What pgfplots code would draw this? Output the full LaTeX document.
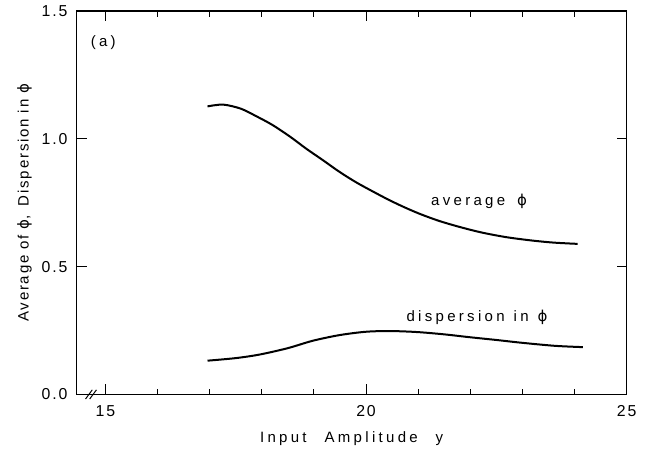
\documentclass[border=0pt]{standalone}
\usepackage{fontspec}
\usepackage{pgfplots}
\pgfplotsset{compat=1.18}
\setmainfont{Liberation Sans}
\newfontfamily\spaced[LetterSpace=22]{Liberation Sans}
\newfontfamily\lessspaced[LetterSpace=12]{Liberation Sans}
\newfontfamily\phifont{DejaVu Sans}
\newcommand{\phisym}{{\phifont ϕ}}

\begin{document}
\begin{tikzpicture}
\begin{axis}[
    scale only axis,
    width=330pt,
    height=230pt,
    xmin=14.45, xmax=25,
    ymin=0, ymax=1.5,
    xtick={15,20,25},
    minor xtick={16,17,18,19,21,22,23,24},
    ytick={0,0.5,1.0,1.5},
    yticklabels={0.0,0.5,1.0,1.5},
    tick align=inside,
    major tick length=6pt,
    minor tick length=3.5pt,
    tick style={black, line width=0.5pt},
    axis line style={line width=0.7pt},
    /pgf/number format/assume math mode=true,
    tick label style={font=\lessspaced\fontsize{9.5}{10}\selectfont},
    xticklabel style={yshift=-3pt},
    yticklabel style={xshift=-2pt},
    xlabel={\spaced\fontsize{9}{10}\selectfont Input\hspace{1.2em}Amplitude\hspace{1.2em}y},
    ylabel={\lessspaced\fontsize{9}{10}\selectfont Average of \phisym,\hspace{0.6em}Dispersion in \phisym},
    xlabel style={yshift=-2pt},
    ylabel style={yshift=-1pt},
    clip=false,
]

% average phi
\addplot[black, line width=1.2pt, smooth] coordinates {
    (16.96,1.127) (17.26,1.134) (17.6,1.118) (17.9,1.088) (18.2,1.055)
    (18.54,1.009) (18.85,0.962) (19.17,0.917) (19.49,0.871) (19.81,0.830)
    (20.15,0.792) (20.45,0.760) (20.75,0.731) (21.05,0.705) (21.40,0.679)
    (21.8,0.655) (22.23,0.633) (22.7,0.615) (23.19,0.602) (23.6,0.594)
    (24.06,0.589)
};

% dispersion in phi
\addplot[black, line width=1.2pt, smooth] coordinates {
    (16.96,0.132) (17.5,0.142) (17.96,0.156) (18.5,0.181) (18.98,0.210)
    (19.49,0.232) (19.99,0.245) (20.45,0.248) (20.98,0.244) (21.5,0.235)
    (21.98,0.224) (22.5,0.213) (22.99,0.202) (23.63,0.190) (24.16,0.185)
};

% axis break marks
\draw[black, line width=0.6pt] (axis cs:14.62,-0.018) -- (axis cs:14.75,0.018);
\draw[black, line width=0.6pt] (axis cs:14.70,-0.018) -- (axis cs:14.83,0.018);

\node[font=\spaced\fontsize{9}{10}\selectfont] at (axis cs:14.96,1.378) {(a)};
\node[font=\spaced\fontsize{9}{10}\selectfont] at (axis cs:22.17,0.757) {average\hspace{0.8em}\phisym};
\node[font=\spaced\fontsize{9}{10}\selectfont] at (axis cs:22.13,0.30) {dispersion\hspace{0.6em}in\hspace{0.6em}\phisym};

% page margins as in the reference
\path (rel axis cs:0,0) ++(-46pt,-37pt);
\path (rel axis cs:1,1) ++(11pt,6pt);

\end{axis}
\end{tikzpicture}
\end{document}
